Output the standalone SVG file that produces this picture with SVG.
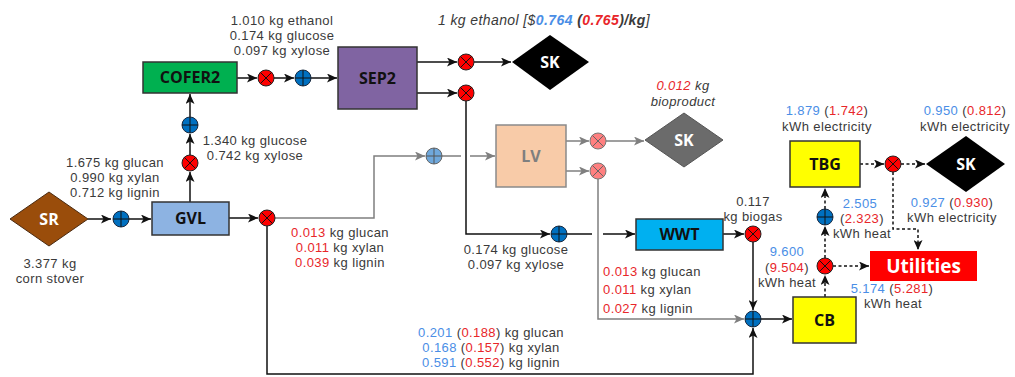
<svg xmlns="http://www.w3.org/2000/svg" width="1015" height="377" viewBox="0 0 1015 377">
<style>
text{font-family:"Liberation Sans","Open Sans",sans-serif;font-size:13px;fill:#3a3a3a;letter-spacing:0.4px}
.c{text-anchor:middle}
.bl{fill:#4a8ee6}
.rd{fill:#e8262a}
.bx{font-family:"Open Sans","Liberation Sans",sans-serif;font-size:16px;font-weight:bold;fill:#111;text-anchor:middle;letter-spacing:0}
.k{stroke:#111;stroke-width:1.5;fill:none}
.g{stroke:#7f7f7f;stroke-width:1.5;fill:none}
.d{stroke:#111;stroke-width:1.5;fill:none;stroke-dasharray:3 2.5}
.box{stroke:#333;stroke-width:1.5}
</style>
<defs>
<marker id="ak" markerUnits="userSpaceOnUse" markerWidth="11" markerHeight="9" refX="10" refY="4.5" orient="auto"><path d="M0,0 L10,4.5 L0,9 L2.5,4.5 z" fill="#111"/></marker>
<marker id="ag" markerUnits="userSpaceOnUse" markerWidth="11" markerHeight="9" refX="10" refY="4.5" orient="auto"><path d="M0,0 L10,4.5 L0,9 L2.5,4.5 z" fill="#7f7f7f"/></marker>
<g id="rx"><circle r="8" fill="#ff0000" stroke="#222" stroke-width="1"/><path d="M-5.6,-5.6L5.6,5.6M-5.6,5.6L5.6,-5.6" stroke="#111" stroke-width="1"/></g>
<g id="bp"><circle r="8" fill="#0070c0" stroke="#1a2a40" stroke-width="1"/><path d="M-8,0H8M0,-8V8" stroke="#111" stroke-width="1"/></g>
<g id="lp"><circle r="8" fill="#6fa8dc" stroke="#666" stroke-width="1"/><path d="M-8,0H8M0,-8V8" stroke="#555" stroke-width="1"/></g>
<g id="px"><circle r="8" fill="#ff8080" stroke="#777" stroke-width="1"/><path d="M-5.6,-5.6L5.6,5.6M-5.6,5.6L5.6,-5.6" stroke="#666" stroke-width="1"/></g>
</defs>

<g id="connectors">
<path class="k" d="M88,219H111" marker-end="url(#ak)"/>
<path class="k" d="M129,219H151" marker-end="url(#ak)"/>
<path class="k" d="M229,218H258" marker-end="url(#ak)"/>
<path class="k" d="M190,202V172" marker-end="url(#ak)"/>
<path class="k" d="M190,155V134" marker-end="url(#ak)"/>
<path class="k" d="M190,117V94" marker-end="url(#ak)"/>
<path class="k" d="M237,78H257" marker-end="url(#ak)"/>
<path class="k" d="M274,78H294" marker-end="url(#ak)"/>
<path class="k" d="M311,78H337" marker-end="url(#ak)"/>
<path class="k" d="M417,62H457" marker-end="url(#ak)"/>
<path class="k" d="M474,62H511" marker-end="url(#ak)"/>
<path class="k" d="M417,93H457" marker-end="url(#ak)"/>
<path class="k" d="M466,101V234H550" marker-end="url(#ak)"/>
<path class="k" d="M567,234H592M603,234H635" marker-end="url(#ak)"/>
<path class="k" d="M723,234H744" marker-end="url(#ak)"/>
<path class="k" d="M753,242V310" marker-end="url(#ak)"/>
<path class="k" d="M761,319H792" marker-end="url(#ak)"/>
<path class="k" d="M267,226V374H753V328" marker-end="url(#ak)"/>
<path class="g" d="M275,218H374V156H425" marker-end="url(#ag)"/>
<path class="g" d="M442,156H461M470,156H495" marker-end="url(#ag)"/>
<path class="g" d="M566,141H589" marker-end="url(#ag)"/>
<path class="g" d="M606,141H644" marker-end="url(#ag)"/>
<path class="g" d="M566,171H589" marker-end="url(#ag)"/>
<path class="g" d="M598,179V319H744" marker-end="url(#ag)"/>
<path class="d" d="M825,297V275" marker-end="url(#ak)"/>
<path class="d" d="M825,258V226" marker-end="url(#ak)"/>
<path class="d" d="M825,209V188" marker-end="url(#ak)"/>
<path class="d" d="M833,266H869" marker-end="url(#ak)"/>
<path class="d" d="M860,164H884" marker-end="url(#ak)"/>
<path class="d" d="M901,164H925" marker-end="url(#ak)"/>
<path class="d" d="M893,172V229H918V250" marker-end="url(#ak)"/>
</g>

<g id="SR"><polygon points="10,219 49,192 88,219 49,246" fill="#9a4d0b" stroke="#4a2a10" stroke-width="1"/><text class="bx" x="49" y="225" style="fill:#fff">SR</text></g>
<g id="GVL"><rect class="box" x="152" y="202" width="77" height="33" fill="#8db3e2"/><text class="bx" x="190.5" y="224">GVL</text></g>
<g id="COFER2"><rect class="box" x="143" y="62" width="94" height="31" fill="#00b050"/><text class="bx" x="190" y="83">COFER2</text></g>
<g id="SEP2"><rect class="box" x="338" y="47" width="79" height="62" fill="#8064a2"/><text class="bx" x="377.5" y="84">SEP2</text></g>
<g id="SK1"><polygon points="512,62 550,35 589,62 550,90" fill="#000"/><text class="bx" x="550" y="68" style="fill:#fff">SK</text></g>
<g id="LV"><rect x="496" y="125" width="70" height="62" fill="#f8cba8" stroke="#8a8a8a" stroke-width="1.5"/><text class="bx" x="531" y="162" style="fill:#7f7f7f">LV</text></g>
<g id="SK2"><polygon points="645,140 684,113 723,140 684,167" fill="#6b6b6b" stroke="#555" stroke-width="1"/><text class="bx" x="684" y="146" style="fill:#fff">SK</text></g>
<g id="WWT"><rect class="box" x="636" y="219" width="87" height="31" fill="#00b0f0"/><text class="bx" x="679.5" y="240">WWT</text></g>
<g id="CB"><rect class="box" x="793" y="297" width="63" height="46" fill="#ffff00"/><text class="bx" x="824.5" y="326">CB</text></g>
<g id="TBG"><rect class="box" x="790" y="141" width="70" height="46" fill="#ffff00"/><text class="bx" x="825" y="170">TBG</text></g>
<g id="SK3"><polygon points="926,164 966,136 1005,164 966,192" fill="#000"/><text class="bx" x="966" y="170" style="fill:#fff">SK</text></g>
<g id="Utilities"><rect x="870" y="251" width="107" height="30" fill="#ff0000"/><text class="bx" x="923.5" y="273" style="fill:#fff;font-size:19px">Utilities</text></g>

<g id="junctions">
<use href="#bp" x="121" y="219"/>
<use href="#rx" x="267" y="218"/>
<use href="#rx" x="190" y="163"/>
<use href="#bp" x="190" y="125"/>
<use href="#rx" x="266" y="78"/>
<use href="#bp" x="303" y="78"/>
<use href="#rx" x="466" y="62"/>
<use href="#rx" x="466" y="93"/>
<use href="#lp" x="434" y="156"/>
<use href="#px" x="598" y="141"/>
<use href="#px" x="598" y="171"/>
<use href="#bp" x="559" y="234"/>
<use href="#rx" x="753" y="234"/>
<use href="#bp" x="753" y="319"/>
<use href="#rx" x="825" y="266"/>
<use href="#bp" x="825" y="217"/>
<use href="#rx" x="893" y="164"/>
</g>

<g id="labels">
<text class="c" x="544" y="25" font-style="italic" style="font-size:14px">1 kg ethanol [$<tspan class="bl" font-weight="bold">0.764</tspan><tspan font-weight="bold"> (</tspan><tspan class="rd" font-weight="bold">0.765</tspan><tspan font-weight="bold">)/kg</tspan>]</text>
<text class="c" x="282" y="25">1.010 kg ethanol</text>
<text class="c" x="282" y="40">0.174 kg glucose</text>
<text class="c" x="282" y="55">0.097 kg xylose</text>
<text class="c" x="255" y="145">1.340 kg glucose</text>
<text class="c" x="255" y="160">0.742 kg xylose</text>
<text class="c" x="115" y="167">1.675 kg glucan</text>
<text class="c" x="115" y="182">0.990 kg xylan</text>
<text class="c" x="115" y="197">0.712 kg lignin</text>
<text class="c" x="50" y="268">3.377 kg</text>
<text class="c" x="50" y="283">corn stover</text>
<text class="c" x="340" y="237"><tspan class="rd">0.013</tspan> kg glucan</text>
<text class="c" x="340" y="252"><tspan class="rd">0.011</tspan> kg xylan</text>
<text class="c" x="340" y="267"><tspan class="rd">0.039</tspan> kg lignin</text>
<text class="c" x="516" y="254">0.174 kg glucose</text>
<text class="c" x="516" y="269">0.097 kg xylose</text>
<text class="c" x="491" y="337"><tspan class="bl">0.201</tspan> (<tspan class="rd">0.188</tspan>) kg glucan</text>
<text class="c" x="491" y="352"><tspan class="bl">0.168</tspan> (<tspan class="rd">0.157</tspan>) kg xylan</text>
<text class="c" x="491" y="367"><tspan class="bl">0.591</tspan> (<tspan class="rd">0.552</tspan>) kg lignin</text>
<text x="603" y="276"><tspan class="rd">0.013</tspan> kg glucan</text>
<text x="603" y="294"><tspan class="rd">0.011</tspan> kg xylan</text>
<text x="603" y="313"><tspan class="rd">0.027</tspan> kg lignin</text>
<text class="c" x="753" y="206">0.117</text>
<text class="c" x="753" y="221">kg biogas</text>
<text class="c" x="683" y="90" font-style="italic"><tspan class="rd">0.012</tspan> kg</text>
<text class="c" x="683" y="106" font-style="italic">bioproduct</text>
<text class="c" x="827" y="115"><tspan class="bl">1.879</tspan> (<tspan class="rd">1.742</tspan>)</text>
<text class="c" x="827" y="131">kWh electricity</text>
<text class="c" x="965" y="115"><tspan class="bl">0.950</tspan> (<tspan class="rd">0.812</tspan>)</text>
<text class="c" x="965" y="131">kWh electricity</text>
<text class="c bl" x="860" y="208">2.505</text>
<text class="c" x="862" y="223">(<tspan class="rd">2.323</tspan>)</text>
<text class="c" x="862" y="238">kWh heat</text>
<text class="c" x="952" y="207"><tspan class="bl">0.927</tspan> (<tspan class="rd">0.930</tspan>)</text>
<text class="c" x="952" y="222">kWh electricity</text>
<text class="c bl" x="787" y="256">9.600</text>
<text class="c" x="787" y="272">(<tspan class="rd">9.504</tspan>)</text>
<text class="c" x="787" y="287">kWh heat</text>
<text class="c" x="892" y="293"><tspan class="bl">5.174</tspan> (<tspan class="rd">5.281</tspan>)</text>
<text class="c" x="893" y="308">kWh heat</text>
</g>
</svg>
